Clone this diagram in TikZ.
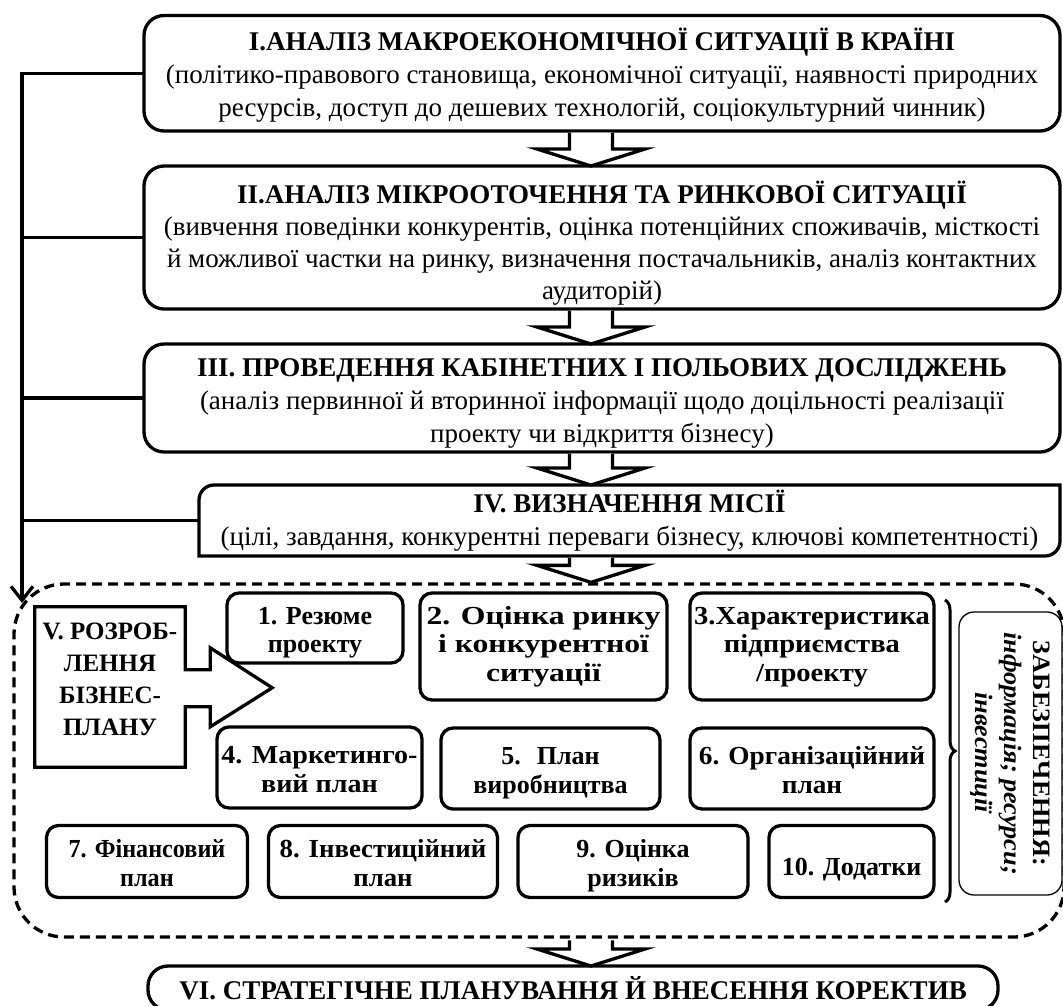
\documentclass[tikz,border=0pt]{standalone}
\usepackage{fontspec}
\setmainfont{Liberation Serif}
\usetikzlibrary{
  calc,
  positioning,
  arrows.meta,
  decorations.pathreplacing
}
\tikzset{>=latex}
\newcommand{\bigtxt}{\fontsize{27}{33}\selectfont}
\newcommand{\plantxt}{\fontsize{26}{28.5}\selectfont\bfseries}
\newcommand{\sidetxt}{\fontsize{25}{29}\selectfont\bfseries}
\newcommand{\stretchby}[1]{\addfontfeatures{FakeStretch=#1}}
\newcommand{\blkarrow}[2]{%
  \draw[blockarr] ([xshift=-21.5pt,yshift=-1.6pt]axis |- #1.south) |- ([xshift=-54pt,yshift=17pt]axis |- #2.north)
    -- (axis |- #2.north) -- ([xshift=54pt,yshift=17pt]axis |- #2.north) -| ([xshift=21.5pt,yshift=-1.6pt]axis |- #1.south);}

\begin{document}
\begin{tikzpicture}[x=1pt, y=1pt,
    stage/.style = {rectangle, draw, rounded corners=20pt, line width=3.3pt, align=center, font=\bigtxt,
                    inner sep=4pt, outer sep=0pt, text depth=0pt},
    plan/.style = {rectangle, draw, rounded corners=12pt, line width=3.3pt, align=center, font=\plantxt,
                   inner sep=2pt, text depth=0pt, text height=49pt},
    lineone/.style = {text height=27pt},
    linethree/.style = {text height=69.5pt},
    blockarr/.style = {draw, fill=white, line width=3.3pt, line join=miter},
    mainline/.style = {line width=3.3pt, line join=miter},
    fbline/.style = {line width=3.3pt, line join=miter},
    dashbox/.style = {rectangle, draw, dash pattern=on 10pt off 6pt, line width=3.3pt, rounded corners=50pt}]
  \useasboundingbox (0,0) rectangle (1063,-1005);
  \coordinate (axis) at (591,0);

  % stages
  \node[stage, minimum width=916pt, minimum height=115.5pt, text height=87pt] (anI) at (602,-73.25)
    {\textbf{І.АНАЛІЗ МАКРОЕКОНОМІЧНОЇ СИТУАЦІЇ В КРАЇНІ}\\
     (політико-правового становища, економічної ситуації, наявності природних\\
     ресурсів, доступ до дешевих технологій, соціокультурний чинник)};
  \node[stage, minimum width=916pt, minimum height=143pt, text height=123pt, font=\fontsize{27}{32}\selectfont,
        below=35pt of anI] (anII)
    {\textbf{ІІ.АНАЛІЗ МІКРООТОЧЕННЯ ТА РИНКОВОЇ СИТУАЦІЇ}\\
     (вивчення поведінки конкурентів, оцінка потенційних споживачів, місткості\\
     й можливої частки на ринку, визначення постачальників, аналіз контактних\\
     аудиторій)};
  \node[stage, minimum width=916pt, minimum height=108pt, text height=89pt, below=35pt of anII] (anIII)
    {\textbf{ІІІ. ПРОВЕДЕННЯ КАБІНЕТНИХ І ПОЛЬОВИХ ДОСЛІДЖЕНЬ}\\
     (аналіз первинної й вторинної інформації щодо доцільності реалізації\\
     проекту чи відкриття бізнесу)};
  \node[stage, draw=none, minimum width=861pt, minimum height=71pt, text height=50pt,
        below=33pt of anIII.south east, anchor=north east] (anIV)
    {\textbf{IV. ВИЗНАЧЕННЯ МІСІЇ}\\
     (цілі, завдання, конкурентні переваги бізнесу, ключові компетентності)};
  \draw[mainline] (anIV.south west) -- ([yshift=-15pt]anIV.north west) arc[start angle=180, end angle=90, radius=15pt]
    -- (anIV.north east) -- ([yshift=15pt]anIV.south east) arc[start angle=0, end angle=-90, radius=15pt] -- cycle;

  \node[dashbox, minimum width=1050pt, minimum height=353pt] (devel) at (539,-760.5) {};
  \node[stage, minimum width=850pt, minimum height=44pt, text height=23pt] (anVI) at (573,-988)
    {\textbf{VI. СТРАТЕГІЧНЕ ПЛАНУВАННЯ Й ВНЕСЕННЯ КОРЕКТИВ}};

  % business plan
  \node[minimum width=150pt, minimum height=160pt] (razr) at (110,-687) {};
  \draw[mainline] (razr.north west) -- (razr.north east) -- ++(0,-63) -- ++(25,0) -- ++(0,22) -- ++(62,-40)
    -- ++(-62,-39) -- ++(0,20) -- ++(-25,0) -- (razr.south east) -- (razr.south west) -- cycle;
  \node[font=\fontsize{25}{32}\selectfont\bfseries, align=center] (razrtxt) at ([yshift=8pt]razr.center)
    {V. РОЗРОБ-\\ЛЕННЯ\\БІЗНЕС-\\ПЛАНУ};

  \node[plan, minimum width=176pt, minimum height=70pt] (p1) at (315,-628) {1. Резюме\\проекту};
  \node[plan, linethree, minimum width=247pt, minimum height=107pt, font=\plantxt\stretchby{1.22}] (p2) at (543.5,-646.5)
    {2. Оцінка ринку\\і конкурентної\\ситуації};
  \node[plan, linethree, minimum width=244pt, minimum height=107pt, font=\plantxt\stretchby{1.1}] (p3) at (812,-646.5)
    {3.Характеристика\\підприємства\\/проекту};
  \node[plan, minimum width=205pt, minimum height=81pt, font=\plantxt\stretchby{1.08}] (p4) at (319.5,-767.5)
    {4. Маркетинго-\\вий план};
  \node[plan, minimum width=219pt, minimum height=81pt] (p5) at (550.5,-768.5) {5.\hspace{16pt}План\\виробництва};
  \node[plan, minimum width=244pt, minimum height=81pt, font=\plantxt\stretchby{1.05}] (p6) at (812,-768.5)
    {6. Організаційний\\план};
  \node[plan, minimum width=201pt, minimum height=72pt, font=\plantxt\stretchby{0.93}] (p7) at (147,-861.5) {7. Фінансовий\\план};
  \node[plan, minimum width=229pt, minimum height=72pt, font=\plantxt\stretchby{1.03}] (p8) at (383,-861.5) {8. Інвестиційний\\план};
  \node[plan, minimum width=230pt, minimum height=72pt] (p9) at (633,-861.5) {9. Оцінка\\ризиків};
  \node[plan, lineone, minimum width=165pt, minimum height=72pt] (p10) at (851.5,-861.5) {10. Додатки};

  \coordinate (brtop) at (945,-600);
  \coordinate (brbot) at (945,-902);
  \draw[line width=3pt, decorate, decoration={brace, amplitude=10pt}] (brtop) -- (brbot);
  \node[draw, rounded corners=15pt, line width=1.3pt, rotate=-90, minimum width=283pt, minimum height=103pt,
        font=\sidetxt\stretchby{1.05}, align=center, inner sep=2pt] (zab) at (1010.5,-753.5)
    {ЗАБЕЗПЕЧЕННЯ:\\\textit{інформація; ресурси;}\\\textit{інвестиції}};

  % connections
  \blkarrow{anI}{anII}
  \blkarrow{anII}{anIII}
  \blkarrow{anIII}{anIV}
  \blkarrow{anIV}{devel}
  \blkarrow{devel}{anVI}

  \coordinate (fbend) at (22,-603);
  \draw[fbline, -{Straight Barb[length=14pt, width=22pt]}] (anI.west) -| (fbend);
  \foreach \s in {anII, anIII, anIV}
    \draw[fbline] (\s.west) -- (\s.west -| fbend);
\end{tikzpicture}
\end{document}
